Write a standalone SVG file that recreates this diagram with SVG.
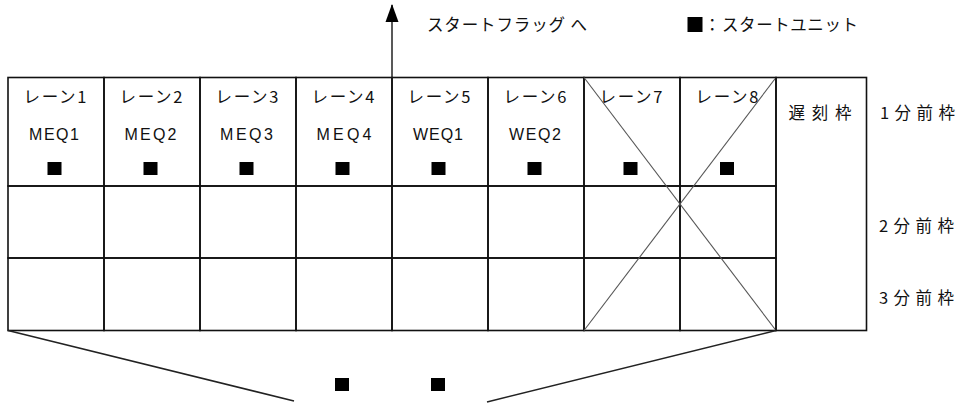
<svg xmlns="http://www.w3.org/2000/svg" width="959" height="404" viewBox="0 0 959 404">
<style>
.jp{font-family:"Noto Sans CJK JP","Liberation Sans",sans-serif;font-size:16.5px;fill:#111}
.lat{font-family:"Liberation Sans","Noto Sans CJK JP",sans-serif;font-size:16px;fill:#111}
.cell{fill:none;stroke:#111;stroke-width:1.6}
.mk{fill:#000}
.x{stroke:#555;stroke-width:1.1;fill:none}
.conn{stroke:#222;stroke-width:1.5;fill:none}
</style>
<defs>
<marker id="ah" markerWidth="18" markerHeight="14" refX="17" refY="7" orient="auto" markerUnits="userSpaceOnUse" viewBox="0 0 18 14">
<path d="M18 7 L0 0.5 L0 13.5 Z" fill="#000"/>
</marker>
</defs>
<rect width="959" height="404" fill="#fff"/>

<g id="lane1">
<rect class="cell" x="8" y="77.5" width="96" height="108.5"/>
<rect class="cell" x="8" y="186" width="96" height="72"/>
<rect class="cell" x="8" y="258" width="96" height="72.5"/>
<text class="jp" x="55" y="103" text-anchor="middle" textLength="63" lengthAdjust="spacing">レーン1</text>
<text class="lat" x="54" y="140" text-anchor="middle" textLength="50" lengthAdjust="spacing">MEQ1</text>
<rect class="mk" x="47.5" y="162" width="14" height="13"/>
</g>
<g id="lane2">
<rect class="cell" x="104" y="77.5" width="96" height="108.5"/>
<rect class="cell" x="104" y="186" width="96" height="72"/>
<rect class="cell" x="104" y="258" width="96" height="72.5"/>
<text class="jp" x="151" y="103" text-anchor="middle" textLength="63" lengthAdjust="spacing">レーン2</text>
<text class="lat" x="150.5" y="140" text-anchor="middle" textLength="52" lengthAdjust="spacing">MEQ2</text>
<rect class="mk" x="143.5" y="162" width="14" height="13"/>
</g>
<g id="lane3">
<rect class="cell" x="200" y="77.5" width="96" height="108.5"/>
<rect class="cell" x="200" y="186" width="96" height="72"/>
<rect class="cell" x="200" y="258" width="96" height="72.5"/>
<text class="jp" x="247" y="103" text-anchor="middle" textLength="63" lengthAdjust="spacing">レーン3</text>
<text class="lat" x="246.5" y="140" text-anchor="middle" textLength="53" lengthAdjust="spacing">MEQ3</text>
<rect class="mk" x="239.5" y="162" width="14" height="13"/>
</g>
<g id="lane4">
<rect class="cell" x="296" y="77.5" width="96" height="108.5"/>
<rect class="cell" x="296" y="186" width="96" height="72"/>
<rect class="cell" x="296" y="258" width="96" height="72.5"/>
<text class="jp" x="343" y="103" text-anchor="middle" textLength="63" lengthAdjust="spacing">レーン4</text>
<text class="lat" x="344" y="140" text-anchor="middle" textLength="55" lengthAdjust="spacing">MEQ4</text>
<rect class="mk" x="335.5" y="162" width="14" height="13"/>
</g>
<g id="lane5">
<rect class="cell" x="392" y="77.5" width="96" height="108.5"/>
<rect class="cell" x="392" y="186" width="96" height="72"/>
<rect class="cell" x="392" y="258" width="96" height="72.5"/>
<text class="jp" x="439" y="103" text-anchor="middle" textLength="63" lengthAdjust="spacing">レーン5</text>
<text class="lat" x="438" y="140" text-anchor="middle" textLength="50" lengthAdjust="spacing">WEQ1</text>
<rect class="mk" x="431.5" y="162" width="14" height="13"/>
</g>
<g id="lane6">
<rect class="cell" x="488" y="77.5" width="96" height="108.5"/>
<rect class="cell" x="488" y="186" width="96" height="72"/>
<rect class="cell" x="488" y="258" width="96" height="72.5"/>
<text class="jp" x="535" y="103" text-anchor="middle" textLength="63" lengthAdjust="spacing">レーン6</text>
<text class="lat" x="535" y="140" text-anchor="middle" textLength="52" lengthAdjust="spacing">WEQ2</text>
<rect class="mk" x="527.5" y="162" width="14" height="13"/>
</g>
<g id="lane7">
<rect class="cell" x="584" y="77.5" width="96" height="108.5"/>
<rect class="cell" x="584" y="186" width="96" height="72"/>
<rect class="cell" x="584" y="258" width="96" height="72.5"/>
<text class="jp" x="631" y="103" text-anchor="middle" textLength="63" lengthAdjust="spacing">レーン7</text>
<rect class="mk" x="623.5" y="162" width="14" height="13"/>
</g>
<g id="lane8">
<rect class="cell" x="680" y="77.5" width="96" height="108.5"/>
<rect class="cell" x="680" y="186" width="96" height="72"/>
<rect class="cell" x="680" y="258" width="96" height="72.5"/>
<text class="jp" x="727" y="103" text-anchor="middle" textLength="63" lengthAdjust="spacing">レーン8</text>
<rect class="mk" x="720" y="162" width="14" height="13"/>
</g>
<g id="lanes78-cross">
<line class="x" x1="584" y1="77.5" x2="776" y2="330.5"/>
<line class="x" x1="776" y1="77.5" x2="584" y2="330.5"/>
</g>
<g id="late">
<rect class="cell" x="776" y="77.5" width="90.5" height="253"/>
<text class="jp" x="820" y="119" text-anchor="middle" textLength="63" lengthAdjust="spacing">遅刻枠</text>
</g>
<g id="row-labels">
<text class="jp" x="880" y="119" textLength="75" lengthAdjust="spacing">1分前枠</text>
<text class="jp" x="879" y="231.5" textLength="75" lengthAdjust="spacing">2分前枠</text>
<text class="jp" x="879" y="303.5" textLength="75" lengthAdjust="spacing">3分前枠</text>
</g>
<g id="flag-label">
<text class="jp" x="427" y="31" textLength="160" lengthAdjust="spacing">スタートフラッグ へ</text>
</g>
<g id="legend">
<rect class="mk" x="687.5" y="17" width="15" height="15"/>
<text class="jp" x="704" y="31">：</text>
<text class="jp" x="722" y="31" textLength="136" lengthAdjust="spacing">スタートユニット</text>
</g>
<g id="bottom-units">
<rect class="mk" x="335" y="378" width="14" height="13"/>
<rect class="mk" x="431" y="378" width="14" height="13"/>
</g>
<g id="connectors">
<line class="conn" x1="392" y1="77.5" x2="392" y2="5" marker-end="url(#ah)"/>
<line class="conn" x1="8" y1="330.5" x2="294" y2="401"/>
<line class="conn" x1="776" y1="330.5" x2="487" y2="402"/>
</g>
</svg>
